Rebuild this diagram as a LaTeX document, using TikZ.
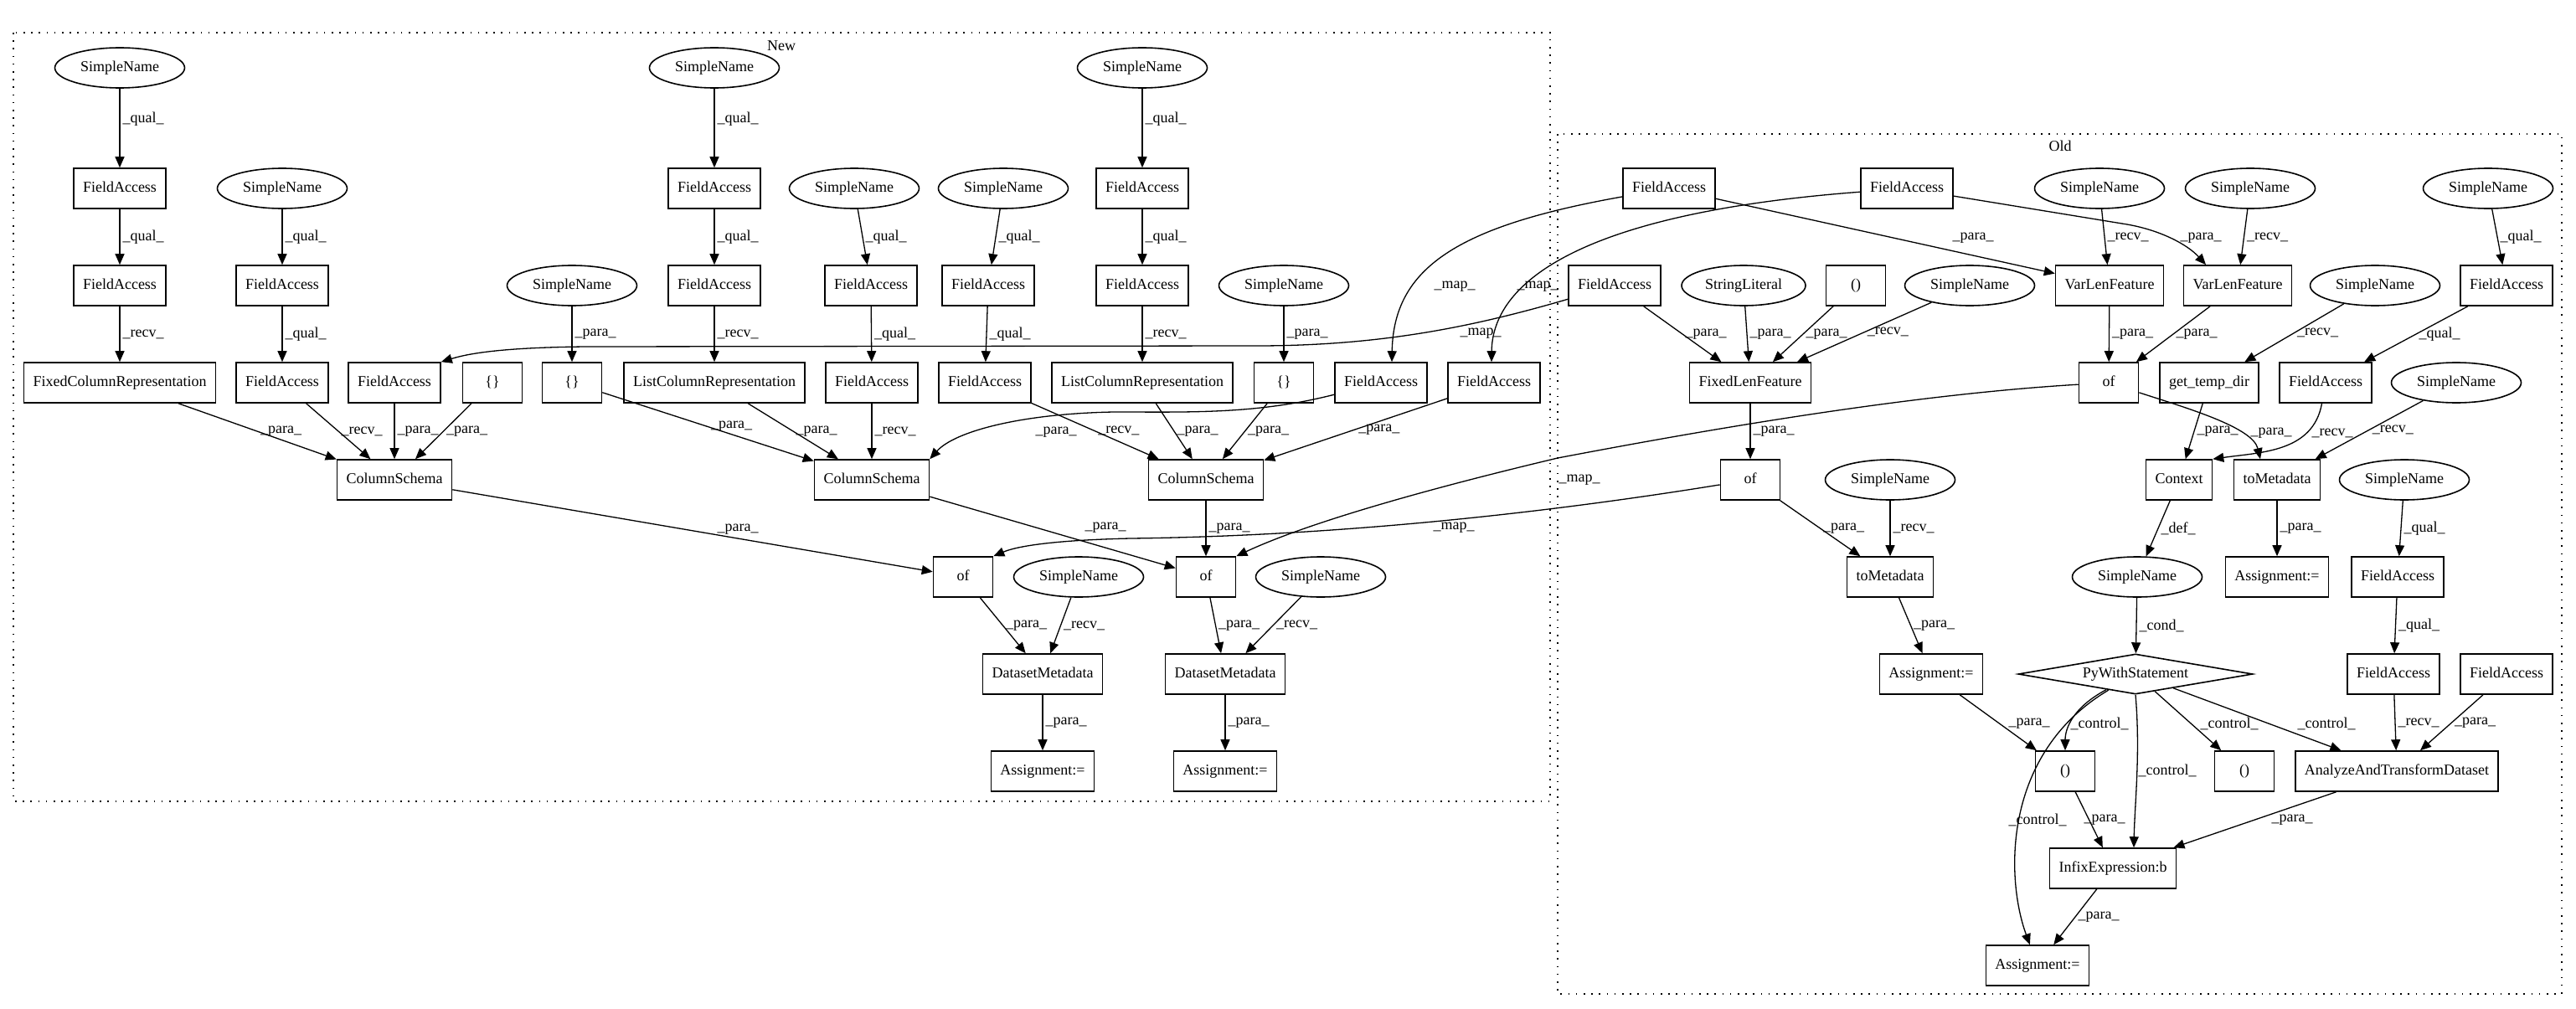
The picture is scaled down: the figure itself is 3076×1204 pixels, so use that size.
\documentclass[tikz,border=0pt]{standalone}
\usepackage{fontspec}
\setmainfont{Liberation Serif}
\usetikzlibrary{shapes.geometric,arrows.meta,calc}
\begin{document}
\begin{tikzpicture}[x=0.5pt,y=-0.5pt,
  every node/.style={font=\fontsize{9pt}{10pt}\selectfont},
  bx/.style={draw, line width=0.8pt, rectangle, minimum width=35.5pt, minimum height=24pt, inner xsep=5.5pt, inner ysep=0pt, text height=6.3pt, text depth=1.8pt},
  el/.style={draw, line width=0.8pt, ellipse, minimum width=77.5pt, minimum height=24pt, inner sep=0pt, text height=6.3pt, text depth=1.8pt},
  dm/.style={draw, line width=0.8pt, diamond, aspect=5.8, minimum width=140pt, minimum height=24pt, inner sep=0pt},
  e/.style={draw, line width=0.65pt, -{Triangle[length=6.5pt,width=5.5pt]}},
  lbl/.style={anchor=west, inner sep=1.5pt},
  lb/.style={inner sep=0pt},
  cl/.style={draw, line width=0.7pt, dash pattern=on 0.8pt off 3.8pt},
]
\useasboundingbox (0,0) rectangle (3076,1204);

% clusters
\draw[cl] (16,39) rectangle (1851,957);
\node[lb] (newlbl) at (933,55) {New};
\draw[cl] (1860,160) rectangle (3059,1187);
\node[lb] (oldlbl) at (2460,174) {Old};

% ---------- New ----------
\node[el] (nsa1) at (143,81) {SimpleName};
\node[bx] (nfa1) at (143,225) {FieldAccess};
\node[bx] (nfa2) at (143,341) {FieldAccess};
\node[bx] (nfcr) at (143,457) {FixedColumnRepresentation};
\node[el] (nsd1) at (337,225) {SimpleName};
\node[bx] (nfd2) at (337,341) {FieldAccess};
\node[bx] (nfd3) at (337,457) {FieldAccess};
\node[bx] (nfx) at (471,457) {FieldAccess};
\node[bx] (nby) at (588,457) {\{\}};
\node[el] (nsg) at (683,341) {SimpleName};
\node[bx] (nbg) at (683,457) {\{\}};
\node[el] (nsb1) at (853,81) {SimpleName};
\node[bx] (nfb2) at (853,225) {FieldAccess};
\node[bx] (nfb3) at (853,341) {FieldAccess};
\node[bx] (nlcr1) at (853,457) {ListColumnRepresentation};
\node[el] (nse1) at (1020,225) {SimpleName};
\node[bx] (nfe2) at (1040,341) {FieldAccess};
\node[bx] (nfe3) at (1041,457) {FieldAccess};
\node[el] (nsf1) at (1198,225) {SimpleName};
\node[bx] (nff2) at (1180,341) {FieldAccess};
\node[bx] (nff3) at (1176,457) {FieldAccess};
\node[el] (nsc1) at (1364,81) {SimpleName};
\node[bx] (nfc2) at (1364,225) {FieldAccess};
\node[bx] (nfc3) at (1364,341) {FieldAccess};
\node[bx] (nlcr2) at (1364,457) {ListColumnRepresentation};
\node[el] (nsh) at (1533,341) {SimpleName};
\node[bx] (nbh) at (1533,457) {\{\}};
\node[bx] (nm1) at (1649,457) {FieldAccess};
\node[bx] (nm2) at (1784,457) {FieldAccess};
\node[bx] (ncs1) at (471,573) {ColumnSchema};
\node[bx] (ncs2) at (1041,573) {ColumnSchema};
\node[bx] (ncs3) at (1440,573) {ColumnSchema};
\node[bx] (nof1) at (1150,689) {of};
\node[el] (nsn1) at (1288,689) {SimpleName};
\node[bx] (nof2) at (1440,689) {of};
\node[el] (nsn2) at (1577,689) {SimpleName};
\node[bx] (ndm1) at (1245,805) {DatasetMetadata};
\node[bx] (ndm2) at (1463,805) {DatasetMetadata};
\node[bx] (nas1) at (1245,921) {Assignment:=};
\node[bx] (nas2) at (1463,921) {Assignment:=};

\draw[e] (nsa1) -- node[lbl,pos=0.38]{\_qual\_} (nfa1);
\draw[e] (nfa1) -- node[lbl]{\_qual\_} (nfa2);
\draw[e] (nfa2) -- node[lbl]{\_recv\_} (nfcr);
\draw[e] (nsd1) -- node[lbl]{\_qual\_} (nfd2);
\draw[e] (nfd2) -- node[lbl]{\_qual\_} (nfd3);
\draw[e] (nsb1) -- node[lbl,pos=0.38]{\_qual\_} (nfb2);
\draw[e] (nfb2) -- node[lbl]{\_qual\_} (nfb3);
\draw[e] (nfb3) -- node[lbl]{\_recv\_} (nlcr1);
\draw[e] (nsg) -- node[lbl]{\_para\_} (nbg);
\draw[e] (nse1) -- node[lbl]{\_qual\_} (nfe2);
\draw[e] (nfe2) -- node[lbl]{\_qual\_} (nfe3);
\draw[e] (nsf1) -- node[lbl]{\_qual\_} (nff2);
\draw[e] (nff2) -- node[lbl]{\_qual\_} (nff3);
\draw[e] (nsc1) -- node[lbl,pos=0.38]{\_qual\_} (nfc2);
\draw[e] (nfc2) -- node[lbl]{\_qual\_} (nfc3);
\draw[e] (nfc3) -- node[lbl]{\_recv\_} (nlcr2);
\draw[e] (nsh) -- node[lbl]{\_para\_} (nbh);
\draw[e] (nfcr) -- node[lbl]{\_para\_} (ncs1);
\draw[e] (nfd3) -- node[lbl]{\_recv\_} (ncs1);
\draw[e] (nfx) -- node[lbl]{\_para\_} (ncs1);
\draw[e] (nby) -- node[lbl]{\_para\_} (ncs1);
\draw[e] (nbg) -- node[lbl]{\_para\_} (ncs2);
\draw[e] (nlcr1) -- node[lbl]{\_para\_} (ncs2);
\draw[e] (nfe3) -- node[lbl]{\_recv\_} (ncs2);
\draw[e] (nff3) -- node[lbl]{\_recv\_} (ncs3);
\draw[e] (nlcr2) -- node[lbl]{\_para\_} (ncs3);
\draw[e] (nbh) -- node[lbl]{\_para\_} (ncs3);
\draw[e] (nm2) -- node[lbl]{\_para\_} (ncs3);
\draw[e] (nm1) .. controls (1500,495) and (1420,492) .. (1330,492) .. controls (1220,494) and (1140,515) .. (ncs2.north east);
\node[lb] (lnp1) at (1261,516) {\_para\_};
\draw[e] (ncs1) -- (nof1);
\node[lb] (lnp2) at (881,632) {\_para\_};
\draw[e] (ncs2) -- (nof2);
\node[lb] (lnp3) at (1320,630) {\_para\_};
\draw[e] (ncs3) -- node[lbl]{\_para\_} (nof2);
\draw[e] (nof1) -- node[lbl]{\_para\_} (ndm1);
\draw[e] (nsn1) -- node[lbl]{\_recv\_} (ndm1);
\draw[e] (nof2) -- node[lbl]{\_para\_} (ndm2);
\draw[e] (nsn2) -- node[lbl]{\_recv\_} (ndm2);
\draw[e] (ndm1) -- node[lbl]{\_para\_} (nas1);
\draw[e] (ndm2) -- node[lbl]{\_para\_} (nas2);

% ---------- Old ----------
\node[bx] (op1) at (1993,225) {FieldAccess};
\node[bx] (op2) at (2277,225) {FieldAccess};
\node[el] (os1) at (2507,225) {SimpleName};
\node[el] (os2) at (2687,225) {SimpleName};
\node[el] (os3) at (2971,225) {SimpleName};
\node[bx] (ofa) at (1928,341) {FieldAccess};
\node[el, minimum width=74pt] (osl) at (2082,341) {StringLiteral};
\node[bx] (oe0) at (2216,341) {()};
\node[el] (os4) at (2352,341) {SimpleName};
\node[bx] (ov1) at (2519,341) {VarLenFeature};
\node[bx] (ov2) at (2672,341) {VarLenFeature};
\node[el] (os5) at (2836,341) {SimpleName};
\node[bx] (ofb) at (2993,341) {FieldAccess};
\node[bx] (oflf) at (2090,457) {FixedLenFeature};
\node[bx] (oof3) at (2518,457) {of};
\node[bx] (ogtd) at (2638,457) {get\_temp\_dir};
\node[bx] (ofc) at (2777,457) {FieldAccess};
\node[el] (os6) at (2933,457) {SimpleName};
\node[bx] (oof4) at (2090,573) {of};
\node[el] (os7) at (2257,573) {SimpleName};
\node[bx] (octx) at (2602,573) {Context};
\node[bx] (otm1) at (2719,573) {toMetadata};
\node[el] (os8) at (2871,573) {SimpleName};
\node[bx] (otm2) at (2257,689) {toMetadata};
\node[el] (os9) at (2552,689) {SimpleName};
\node[bx] (oas1) at (2719,689) {Assignment:=};
\node[bx] (ofd) at (2863,689) {FieldAccess};
\node[bx] (oas2) at (2306,805) {Assignment:=};
\node[dm] (opw) at (2550,805) {PyWithStatement};
\node[bx] (ofe) at (2858,805) {FieldAccess};
\node[bx] (off) at (2993,805) {FieldAccess};
\node[bx] (oe1) at (2466,921) {()};
\node[bx] (oe2) at (2680,921) {()};
\node[bx] (oaatd) at (2862,921) {AnalyzeAndTransformDataset};
\node[bx] (oinf) at (2523,1037) {InfixExpression:b};
\node[bx] (oas3) at (2433,1153) {Assignment:=};

\draw[e] (op1) -- (ov1);
\node[lb] (lop1) at (2356,284) {\_para\_};
\draw[e] (op2) -- (2540,268) .. controls (2580,275) and (2612,292) .. ($(ov2.north)+(-38,0)$);
\node[lb] (lop2) at (2628,284) {\_para\_};
\draw[e] (os1) -- node[lbl]{\_recv\_} (ov1);
\draw[e] (os2) -- node[lbl]{\_recv\_} (ov2);
\draw[e] (os3) -- node[lbl]{\_qual\_} (ofb);
\draw[e] (ofa) -- node[lbl]{\_para\_} (oflf);
\draw[e] (osl) -- node[lbl]{\_para\_} (oflf);
\draw[e] (oe0) -- node[lbl]{\_para\_} (oflf);
\draw[e] (os4) -- node[lbl]{\_recv\_} (oflf);
\draw[e] (ov1) -- node[lbl]{\_para\_} (oof3);
\draw[e] (ov2) -- node[lbl]{\_para\_} (oof3);
\draw[e] (os5) -- node[lbl]{\_recv\_} (ogtd);
\draw[e] (ofb) -- node[lbl]{\_qual\_} (ofc);
\draw[e] (oflf) -- node[lbl]{\_para\_} (oof4);
\draw[e] (ogtd) -- node[lbl]{\_para\_} (octx);
\draw[e] (oof3) .. controls (2610,487) and (2690,510) .. ($(otm1.north)+(-20,0)$);
\node[lb] (lop3) at (2712,517) {\_para\_};
\draw[e] (ofc) .. controls (2762,540) and (2700,540) .. (octx.north east);
\node[lb] (lop4) at (2785,517) {\_recv\_};
\draw[e] (os6) -- node[lbl]{\_recv\_} (otm1);
\draw[e] (oof4) -- node[lbl]{\_para\_} (otm2);
\draw[e] (os7) -- node[lbl]{\_recv\_} (otm2);
\draw[e] (octx) -- node[lbl]{\_def\_} (os9);
\draw[e] (otm1) -- node[lbl]{\_para\_} (oas1);
\draw[e] (os8) -- node[lbl]{\_qual\_} (ofd);
\draw[e] (otm2) -- node[lbl]{\_para\_} (oas2);
\draw[e] (os9) -- node[lbl]{\_cond\_} (opw);
\draw[e] (ofd) -- node[lbl]{\_qual\_} (ofe);
\draw[e] (oas2) -- (oe1);
\node[lb] (lop5) at (2423,864) {\_para\_};
\draw[e] (opw) .. controls (2475,845) and (2466,870) .. (oe1);
\node[lb] (lop6) at (2507,864) {\_control\_};
\draw[e] (opw) .. controls (2390,900) and (2395,1050) .. (oas3);
\node[lb] (lop7) at (2433,979) {\_control\_};
\draw[e] (opw.south) .. controls (2556,900) and (2549,960) .. ($(oinf.north)+(25,0)$);
\node[lb] (lop8) at (2588,920) {\_control\_};
\draw[e] (opw) -- (oe2);
\node[lb] (lop9) at (2662,864) {\_control\_};
\draw[e] (opw) -- (oaatd);
\node[lb] (lop10) at (2778,864) {\_control\_};
\draw[e] (ofe) -- node[lbl]{\_recv\_} (oaatd);
\draw[e] (off) -- node[lbl]{\_para\_} (oaatd);
\draw[e] (oe1) -- (oinf);
\node[lb] (lop11) at (2513,979) {\_para\_};
\draw[e] (oaatd) -- (oinf);
\node[lb] (lop12) at (2737,979) {\_para\_};
\draw[e] (oinf) -- node[lbl]{\_para\_} (oas3);

% ---------- map edges ----------
\draw[e] (op1) .. controls (1740,270) and (1664,320) .. ($(nm1.north)+(13,0)$);
\node[lb] (lm1) at (1737,342) {\_map\_};
\draw[e] (op2) .. controls (1880,255) and (1782,340) .. ($(nm2.north)+(-3,0)$);
\node[lb] (lm2) at (1836,342) {\_map\_};
\draw[e] (ofa) .. controls (1760,390) and (1650,413) .. (1500,413) -- (700,414) .. controls (600,415) and (560,422) .. (nfx.north east);
\node[lb] (lm3) at (1768,398) {\_map\_};
\draw[e] (oof3) .. controls (2300,470) and (2080,505) .. (1860,547) .. controls (1700,585) and (1560,625) .. (nof2.north east);
\node[lb] (lm4) at (1886,573) {\_map\_};
\draw[e] (oof4) .. controls (1850,612) and (1600,640) .. (1350,643) .. controls (1260,645) and (1215,652) .. (nof1.north east);
\node[lb] (lm5) at (1736,630) {\_map\_};
\end{tikzpicture}
\end{document}
